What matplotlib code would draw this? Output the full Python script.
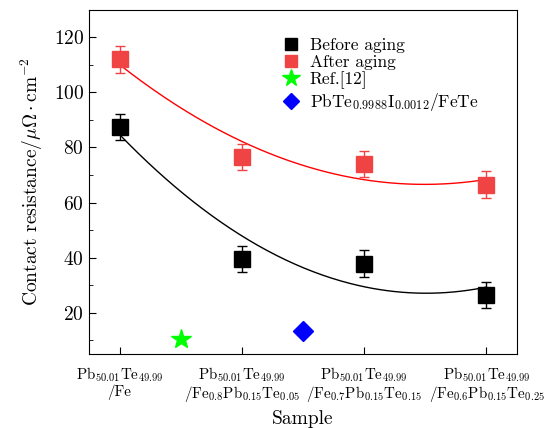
import matplotlib
matplotlib.use("Agg")
import matplotlib.pyplot as plt
import numpy as np
from matplotlib.ticker import MultipleLocator
from matplotlib.lines import Line2D

plt.rcParams['font.family'] = ['cmr10', 'DejaVu Serif']
plt.rcParams['mathtext.fontset'] = 'cm'
plt.rcParams['axes.formatter.use_mathtext'] = True
plt.rcParams['font.size'] = 13

samples = [r'Pb$_{50.01}$Te$_{49.99}$' + '\n/Fe',
           r'Pb$_{50.01}$Te$_{49.99}$' + '\n' + r'/Fe$_{0.8}$Pb$_{0.15}$Te$_{0.05}$',
           r'Pb$_{50.01}$Te$_{49.99}$' + '\n' + r'/Fe$_{0.7}$Pb$_{0.15}$Te$_{0.15}$',
           r'Pb$_{50.01}$Te$_{49.99}$' + '\n' + r'/Fe$_{0.6}$Pb$_{0.15}$Te$_{0.25}$']
before = [87.5, 39.5, 37.8, 26.5]
before_err = [4.8, 4.8, 4.8, 4.8]
after = [112.0, 76.5, 74.0, 66.5]
after_err = [4.8, 4.8, 4.8, 4.8]
ref_x, ref_y = [0.5], [10.5]
pbte_x, pbte_y = [1.5], [13.5]

red = '#f04444'
x = np.arange(len(samples))

fig, ax = plt.subplots(figsize=(5.46, 4.28), dpi=100)
fig.subplots_adjust(left=0.163, right=0.947, top=0.977, bottom=0.173)

xs = np.linspace(0, 3, 200)
pb = np.polyfit(x, before, 2)
pa = np.polyfit(x, after, 2)
ax.plot(xs, np.polyval(pb, xs), color='black', lw=1)
ax.plot(xs, np.polyval(pa, xs), color='red', lw=1)

ax.errorbar(x, before, yerr=before_err, fmt='s', color='black', ms=11,
            capsize=3.5, elinewidth=1)
ax.errorbar(x, after, yerr=after_err, fmt='s', color=red, ms=11,
            capsize=3.5, elinewidth=1)
ax.plot(ref_x, ref_y, '*', color='#00ff00', ms=15, ls='none')
ax.plot(pbte_x, pbte_y, 'D', color='blue', ms=10, ls='none')

ax.set_xlim(-0.25, 3.25)
ax.set_ylim(5, 130)
ax.set_xticks(x)
ax.set_xticklabels(samples, fontsize=10.8, linespacing=1.05)
ax.yaxis.set_major_locator(MultipleLocator(20))
ax.yaxis.set_minor_locator(MultipleLocator(10))
ax.tick_params(direction='in', which='both', top=False, right=False)
ax.tick_params(axis='y', labelsize=14)
ax.tick_params(axis='x', pad=8)
ax.tick_params(which='major', length=5)
ax.tick_params(which='minor', length=3)
ax.set_xlabel('Sample', fontsize=14)
ax.xaxis.set_label_coords(0.5, -0.163)
ax.set_ylabel(r'Contact resistance/$\mu\Omega\cdot$cm$^{-2}$', fontsize=14, labelpad=6)

handles = [Line2D([], [], marker='s', color='black', ms=9, ls='none'),
           Line2D([], [], marker='s', color=red, ms=9, ls='none'),
           Line2D([], [], marker='*', color='#00ff00', ms=13, ls='none'),
           Line2D([], [], marker='D', color='blue', ms=8, ls='none')]
ax.legend(handles,
          ['Before aging', 'After aging', 'Ref.[12]',
           r'PbTe$_{0.9988}$I$_{0.0012}$/FeTe'],
          loc='upper left', bbox_to_anchor=(0.41, 0.965),
          frameon=False, handletextpad=0.5, labelspacing=0.1,
          handlelength=1.2, fontsize=12.5)

plt.savefig('out.png')
